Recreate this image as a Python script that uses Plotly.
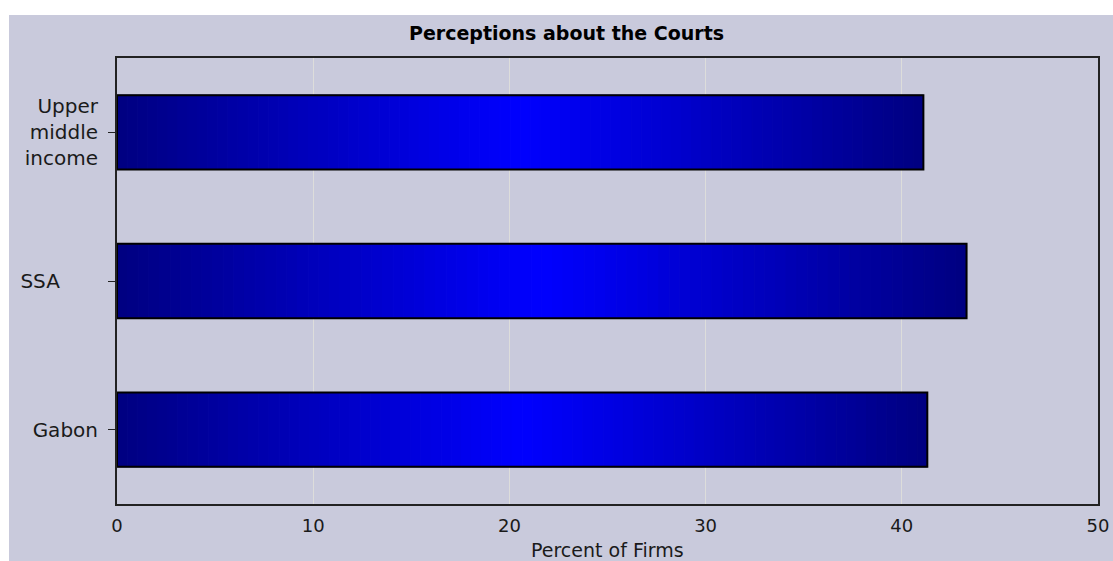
import numpy as np
import plotly.graph_objs as go

categories = ['Gabon', 'SSA\u00a0\u00a0\u00a0\u00a0\u00a0\u00a0', 'Upper<br>middle<br>income']
values = [41.3, 43.3, 41.1]
x_ticks = [0, 10, 20, 30, 40, 50]

BG = '#c9cadc'
N_SEG = 80


def seg_colour(frac):
    # dark navy at the bar ends, bright blue in the middle
    t = 1 - abs(2 * frac - 1)
    b = int(round(0x80 + (0xff - 0x80) * t))
    return 'rgb(0,0,{})'.format(b)


data = []
vals = np.array(values)
for i in range(N_SEG):
    c = seg_colour((i + 0.5) / N_SEG)
    data.append(go.Bar(y=categories, x=vals / N_SEG, base=vals * i / N_SEG,
                       orientation='h', width=0.5, showlegend=False, hoverinfo='skip',
                       marker={'color': c, 'line': {'width': 1, 'color': c}}))
# outline on top of the gradient segments
data.append(go.Bar(y=categories, x=vals, orientation='h', width=0.5, showlegend=False,
                   hovertext=['{}%'.format(v) for v in values], hoverinfo='text',
                   marker={'color': 'rgba(0,0,0,0)', 'line': {'color': '#000000', 'width': 2}}))

layout = go.Layout(
    width=1113, height=561,
    title={'text': '<b>Perceptions about the Courts</b>', 'x': 0.509, 'xanchor': 'center',
           'y': 0.941, 'yanchor': 'middle',
           'font': {'family': 'DejaVu Sans', 'size': 19, 'color': '#000000'}},
    barmode='overlay',
    paper_bgcolor=BG, plot_bgcolor=BG,
    font={'family': 'DejaVu Sans', 'size': 18, 'color': '#1a1a1a'},
    margin={'l': 117, 'r': 15, 't': 58, 'b': 57, 'pad': 0},
    xaxis={'range': [0, 50], 'tickvals': x_ticks, 'showgrid': True, 'gridcolor': '#dddddb',
           'gridwidth': 1, 'zeroline': False, 'showline': True, 'mirror': True,
           'linecolor': '#222222', 'linewidth': 2, 'ticks': '', 'tickfont': {'size': 18},
           'ticklabelstandoff': 4, 'automargin': False},
    yaxis={'showgrid': False, 'zeroline': False, 'showline': True, 'mirror': True,
           'linecolor': '#222222', 'linewidth': 2, 'ticks': 'outside', 'ticklen': 7,
           'tickcolor': '#222222', 'tickfont': {'size': 20}, 'ticklabelstandoff': 6,
           'automargin': False, 'range': [-0.5, 2.5]},
    # axis title sits low, near the bottom edge as in the original
    annotations=[{'text': 'Percent of Firms', 'xref': 'paper', 'yref': 'paper',
                  'x': 0.5, 'y': -0.104, 'xanchor': 'center', 'yanchor': 'middle',
                  'showarrow': False, 'font': {'size': 19}}],
    shapes=[
        # white strips along the top and left edges of the picture
        {'type': 'rect', 'xref': 'paper', 'yref': 'paper', 'x0': -0.2, 'x1': 1.1,
         'y0': 1.0964, 'y1': 1.2, 'fillcolor': '#ffffff', 'line': {'width': 0}, 'layer': 'below'},
        {'type': 'rect', 'xref': 'paper', 'yref': 'paper', 'x0': -0.2, 'x1': -0.1101,
         'y0': -0.2, 'y1': 1.2, 'fillcolor': '#ffffff', 'line': {'width': 0}, 'layer': 'below'},
    ],
)

fig = go.Figure(data=data, layout=layout)
fig.write_html('out.html', config={'displayModeBar': False},
               post_script="document.body.style.margin='0';"
                           "document.body.style.overflow='hidden';"
                           "document.documentElement.style.overflow='hidden';")
